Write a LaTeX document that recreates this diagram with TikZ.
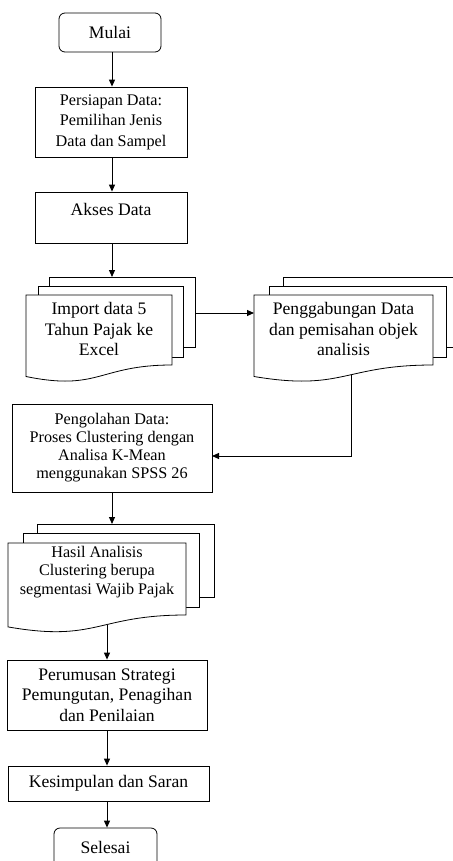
\documentclass[tikz,border=0pt]{standalone}
\usepackage{fontspec}
\setmainfont{Liberation Serif}
\usetikzlibrary{arrows.meta}
\begin{document}
\begin{tikzpicture}[x=1pt,y=-1pt,
  bigfont/.style={font=\fontsize{17.6}{20.5}\selectfont},
  smallfont/.style={font=\fontsize{16.2}{20.5}\selectfont},
  boxst/.style={draw, line width=0.8pt, fill=white, align=center, inner sep=2pt, bigfont},
  termst/.style={boxst, rounded corners=6pt},
  txtst/.style={align=center, inner sep=0pt, bigfont},
  sheetst/.style={draw, fill=white, line width=0.8pt},
  arr/.style={-{Triangle[length=7pt,width=6pt]}, line width=1pt}]
\useasboundingbox[fill=white] (0,0) rectangle (452,861);

% terminals and process boxes
\node[termst, minimum width=102pt, minimum height=39pt] (mulai) at (110,32.5) {Mulai};
\node[boxst, smallfont, minimum width=152pt, minimum height=70pt] (persiapan) at (111,122)
  {Persiapan Data:\\Pemilihan Jenis\\Data dan Sampel};
\node[boxst, minimum width=152pt, minimum height=51pt, text depth=17pt] (akses) at (111,217.5) {Akses Data};

% Import multi-document
\path[sheetst] (49,277) rectangle (195,347);
\path[sheetst] (38,286) rectangle (183,357);
\path[sheetst] (26,295) -- (172,295) -- (172,365) .. controls (99,365) and (99,391.5) .. (26,376.5) -- cycle;
\node[txtst] (importtxt) at (99,329) {Import data 5\\Tahun Pajak ke\\Excel};

% Penggabungan multi-document
\path[sheetst] (283,277) rectangle (470,347);
\path[sheetst] (269,286) rectangle (446,357);
\path[sheetst] (254,295) -- (433,295) -- (433,365) .. controls (343.5,365) and (343.5,391.5) .. (254,376.5) -- cycle;
\node[txtst] (pgtxt) at (343.5,329) {Penggabungan Data\\dan pemisahan objek\\analisis};

\node[boxst, minimum width=200pt, minimum height=88pt, font=\fontsize{16.2}{18}\selectfont] (pengolahan) at (112,448)
  {Pengolahan Data:\\Proses Clustering dengan\\Analisa K-Mean\\menggunakan SPSS 26};

% Hasil multi-document
\path[sheetst] (37,524) rectangle (214,597);
\path[sheetst] (23,533) rectangle (199,607);
\path[sheetst] (8,543) -- (186,543) -- (186,615) .. controls (97,615) and (97,642.5) .. (8,626.9) -- cycle;
\node[txtst, font=\fontsize{16.2}{18.3}\selectfont] (hasiltxt) at (97,572) {Hasil Analisis\\Clustering berupa\\segmentasi Wajib Pajak};

\node[boxst, minimum width=200pt, minimum height=70pt] (perumusan) at (107,695)
  {Perumusan Strategi\\Pemungutan, Penagihan\\dan Penilaian};
\node[boxst, minimum width=201pt, minimum height=35pt] (kesimpulan) at (108.5,783.5) {Kesimpulan dan Saran};
\node[termst, minimum width=103pt, minimum height=39pt] (selesai) at (105.5,847.5) {Selesai};

% connector end points
\coordinate (imptop) at (112,277);
\coordinate (impR) at (195,313);
\coordinate (pgL) at (254,313);
\coordinate (pgbot) at (351,375);
\coordinate (pgin) at (212,456);
\coordinate (hasiltop) at (112,524);
\coordinate (hasilbot) at (107,625);

% connectors
\draw[arr] (mulai.south -| 112,0) -- (persiapan.north -| 112,0);
\draw[arr] (persiapan.south -| 112,0) -- (akses.north -| 112,0);
\draw[arr] (akses.south -| imptop) -- (imptop);
\draw[arr] (impR) -- (pgL);
\draw[arr] (pgbot) |- (pgin);
\draw[arr] (pengolahan.south -| hasiltop) -- (hasiltop);
\draw[arr] (hasilbot) -- (hasilbot |- perumusan.north);
\draw[arr] (perumusan.south) -- (perumusan.south |- kesimpulan.north);
\draw[arr] (kesimpulan.south -| perumusan.south) -- (selesai.north -| perumusan.south);
\end{tikzpicture}
\end{document}
